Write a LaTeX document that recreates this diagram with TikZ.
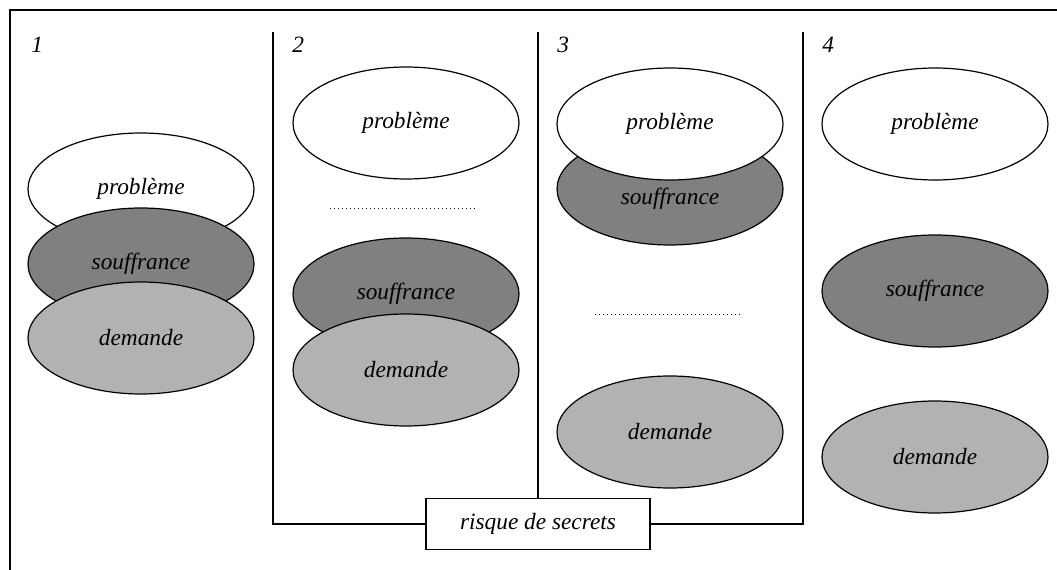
\documentclass[tikz,border=0pt]{standalone}
\usepackage{fontspec}
\setmainfont{Liberation Serif}
\usetikzlibrary{shapes.geometric}
\definecolor{souffgray}{gray}{0.5}
\definecolor{demgray}{gray}{0.7}

\begin{document}
\begin{tikzpicture}[x=0.75pt, y=-0.75pt,
font=\fontsize{17.5}{21}\selectfont\itshape,
blob/.style={ellipse, draw=black, line width=0.9pt, minimum width=169.5pt, minimum height=84pt, inner sep=0pt},
probnode/.style={blob, fill=white},
souffnode/.style={blob, fill=souffgray},
demnode/.style={blob, fill=demgray},
numnode/.style={anchor=base west, inner sep=0pt},
riskbox/.style={rectangle, draw=black, line width=1.1pt, fill=white, minimum width=168pt, minimum height=38pt},
frameline/.style={line width=1.2pt},
gapline/.style={line width=0.7pt, dash pattern=on 0.7pt off 2.3pt},
]
\useasboundingbox (0,0) rectangle (1057,570);
%Frame
\draw[frameline] (10,570) -- (10,10) -- (1057,10);

%Nodes
\node[numnode] (n1) at (31,53)  {1};
\node[numnode] (n2) at (292,53) {2};
\node[numnode] (n3) at (557,53) {3};
\node[numnode] (n4) at (822,53) {4};

\node[probnode]  (prob1)  at (141,189) {problème};
\node[souffnode] (souff1) at (141,264) {souffrance};
\node[demnode]   (dem1)   at (141,338) {demande};

\node[probnode]  (prob2)  at (406,123) {problème};
\node[souffnode] (souff2) at (406,294) {souffrance};
\node[demnode]   (dem2)   at (406,370) {demande};

\node[souffnode, label={[yshift=-7pt]center:souffrance}] (souff3) at (670,189) {};
\node[probnode]  (prob3)  at (670,124) {problème};
\node[demnode]   (dem3)   at (670,432) {demande};

\node[probnode]  (prob4)  at (935,124) {problème};
\node[souffnode] (souff4) at (935,291) {souffrance};
\node[demnode]   (dem4)   at (935,457) {demande};

\node[riskbox] (risk) at (538,524) {risque de secrets};
\coordinate (top2) at (273,32);
\coordinate (top3) at (538,32);
\coordinate (top4) at (803,32);

%Gaps
\draw[gapline] (330,208) -- (478,208);
\draw[gapline] (595,314) -- (742,314);

%Lines
\draw[frameline] (top2) |- (risk.west);
\draw[frameline] (top3) -- (risk.north);
\draw[frameline] (top4) |- (risk.east);
\end{tikzpicture}
\end{document}
